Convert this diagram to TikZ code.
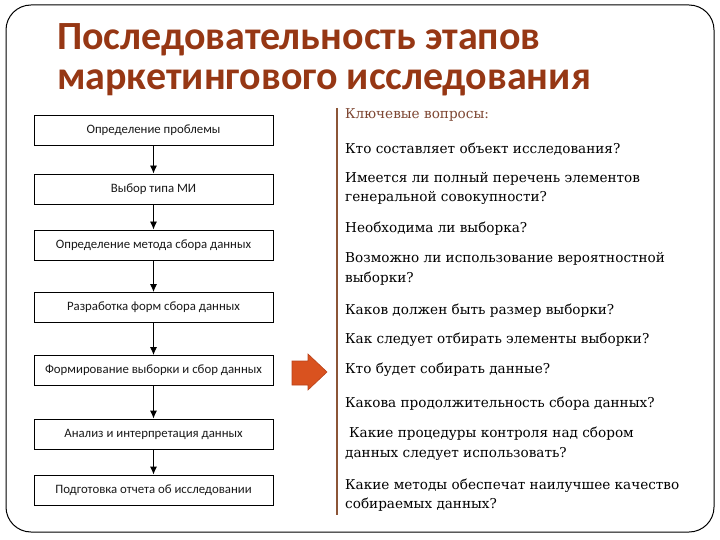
\documentclass[tikz,border=0pt]{standalone}
\usepackage{fontspec}
\setmainfont{Carlito}
\newfontfamily\qfont{DejaVu Serif}
\usetikzlibrary{arrows.meta}
\definecolor{titlecol}{RGB}{150,55,20}
\definecolor{keycol}{RGB}{125,70,50}
\definecolor{barcol}{RGB}{140,85,55}
\definecolor{arrfill}{RGB}{217,82,31}
\definecolor{arrdraw}{RGB}{185,65,25}
\tikzset{
  stepbox/.style={draw=black, line width=0.9pt, minimum width=239pt, minimum height=30pt, inner sep=0pt,
    font=\fontsize{12.8}{14}\selectfont, text=black!90},
  flow/.style={-{Latex[length=8pt,width=7pt]}, line width=0.9pt},
  qline/.style={anchor=base west, inner sep=0pt, font=\qfont\fontsize{13.6}{20}\selectfont},
  tline/.style={anchor=base west, inner sep=0pt, font=\bfseries\fontsize{40}{44}\selectfont, text=titlecol}
}
\begin{document}
\begin{tikzpicture}[x=1pt,y=-1pt]
\useasboundingbox (0,0) rectangle (720,540);
\draw[line width=1pt, rounded corners=25pt] (6,5) rectangle (714,532);
% title
\node[tline] (t1) at (57,50) {Последовательность этапов};
\node[tline] (t2) at (57,90) {маркетингового исследования};
% flow boxes
\node[stepbox] (b1) at (153.5,130.5) {Определение проблемы};
\node[stepbox] (b2) at (153.5,189) {Выбор типа МИ};
\node[stepbox] (b3) at (153.5,245) {Определение метода сбора данных};
\node[stepbox] (b4) at (153.5,307.5) {Разработка форм сбора данных};
\node[stepbox] (b5) at (153.5,370.5) {Формирование выборки и сбор данных};
\node[stepbox] (b6) at (153.5,434) {Анализ и интерпретация данных};
\node[stepbox] (b7) at (153.5,490) {Подготовка отчета об исследовании};
\draw[flow] (b1) -- (b2);
\draw[flow] (b2) -- (b3);
\draw[flow] (b3) -- (b4);
\draw[flow] (b4) -- (b5);
\draw[flow] (b5) -- (b6);
\draw[flow] (b6) -- (b7);
% orange block arrow
\draw[fill=arrfill, draw=arrdraw, line width=0.6pt, line join=miter]
  (292,361) -- (308,361) -- (308,354) -- (327,372) -- (308,390) -- (308,385) -- (292,385) -- cycle;
% vertical bar
\coordinate (vbtop) at (337,108);
\coordinate (vbbot) at (337,515);
\draw[barcol, line width=1.4pt] (vbtop) -- (vbbot);
% questions
\node[qline, text=keycol] (k) at (345,119) {Ключевые вопросы:};
\node[qline] (q1) at (345,154) {Кто составляет объект исследования?};
\node[qline] (q2a) at (345,183) {Имеется ли полный перечень элементов};
\node[qline] (q2b) at (345,202) {генеральной совокупности?};
\node[qline] (q3) at (345,233) {Необходима ли выборка?};
\node[qline] (q4a) at (345,262) {Возможно ли использование вероятностной};
\node[qline] (q4b) at (345,282) {выборки?};
\node[qline] (q5) at (345,314) {Каков должен быть размер выборки?};
\node[qline] (q6) at (345,343) {Как следует отбирать элементы выборки?};
\node[qline] (q7) at (345,373) {Кто будет собирать данные?};
\node[qline] (q8) at (345,407) {Какова продолжительность сбора данных?};
\node[qline] (q9a) at (349,437) {Какие процедуры контроля над сбором};
\node[qline] (q9b) at (345,457) {данных следует использовать?};
\node[qline] (q10a) at (345,489) {Какие методы обеспечат наилучшее качество};
\node[qline] (q10b) at (345,508) {собираемых данных?};
\end{tikzpicture}
\end{document}
